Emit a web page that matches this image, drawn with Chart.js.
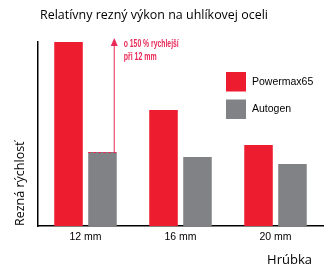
<!DOCTYPE html>
<html>
<head>
<meta charset="utf-8">
<script src="https://cdn.jsdelivr.net/npm/chart.js"></script>
<style>
  html, body { margin: 0; padding: 0; background: #fff; }
  canvas { display: block; }
</style>
</head>
<body>
<canvas id="chart" width="329" height="276"></canvas>
<script>
const categories = ["12 mm", "16 mm", "20 mm"];
const powermax = [100, 63, 44];
const autogen = [40.2, 37.5, 33.7];
const seriesNames = ["Powermax65", "Autogen"];
const seriesColors = ["#ed1c2e", "#808285"];

const chartTitle = "Relatívny rezný výkon na uhlíkovej oceli";
const yTitle = "Rezná rýchlosť";
const xTitle = "Hrúbka";
const noteLines = ["o 150 % rychlejší", "při 12 mm"];
const noteColor = "#e92a58";

// draws text squeezed/stretched to a given width
function fitText(ctx, text, x, y, width) {
  const w = ctx.measureText(text).width;
  const sx = width / w;
  ctx.save();
  ctx.translate(x, y);
  ctx.scale(sx, 1);
  ctx.fillText(text, 0, 0);
  ctx.restore();
}

const extras = {
  id: "extras",
  afterDatasetsDraw(chart) {
    const ctx = chart.ctx;
    const area = chart.chartArea;
    const yScale = chart.scales.y;

    // chart title
    ctx.save();
    ctx.fillStyle = "#000";
    ctx.font = "12.5px 'Open Sans'";
    ctx.textAlign = "left";
    ctx.textBaseline = "middle";
    fitText(ctx, chartTitle, area.left + 2, 15, 228);

    // x axis title
    ctx.font = "13px 'Open Sans'";
    ctx.textAlign = "right";
    ctx.fillText(xTitle, area.right - 11, 260);

    // legend
    ctx.font = "10.5px 'Liberation Sans', Arial";
    ctx.textAlign = "left";
    chart.data.datasets.forEach((ds, i) => {
      const lx = area.right - 97;
      const ly = area.top + 30 + i * 27.5;
      ctx.fillStyle = ds.backgroundColor;
      ctx.fillRect(lx, ly, 20, 19.5);
      ctx.fillStyle = "#000";
      ctx.fillText(ds.label, lx + 26, ly + 10);
    });

    // arrow annotation over the 12 mm Autogen bar
    const bar = chart.getDatasetMeta(1).data[0];
    const left = bar.x - bar.width / 2;
    const right = bar.x + bar.width / 2;
    ctx.strokeStyle = noteColor;
    ctx.lineWidth = 1;
    ctx.setLineDash([3, 2]);
    ctx.beginPath();
    ctx.moveTo(left, bar.y + 0.5);
    ctx.lineTo(right, bar.y + 0.5);
    ctx.stroke();
    ctx.setLineDash([]);

    const ax = right - 2.5;
    const top = yScale.getPixelForValue(yScale.max) - 4;
    ctx.beginPath();
    ctx.moveTo(ax, bar.y);
    ctx.lineTo(ax, top + 6);
    ctx.stroke();
    ctx.fillStyle = noteColor;
    ctx.beginPath();
    ctx.moveTo(ax, top);
    ctx.lineTo(ax - 3.5, top + 8);
    ctx.lineTo(ax + 3.5, top + 8);
    ctx.closePath();
    ctx.fill();

    ctx.font = "bold 11px 'Liberation Sans Narrow', 'Liberation Sans', Arial";
    ctx.textAlign = "left";
    fitText(ctx, noteLines[0], ax + 9.5, top + 5.5, 55);
    fitText(ctx, noteLines[1], ax + 9.5, top + 19, 33);
    ctx.restore();
  }
};

const config = {
  type: "bar",
  data: {
    labels: categories,
    datasets: [
      { label: seriesNames[0], data: powermax, backgroundColor: seriesColors[0] },
      { label: seriesNames[1], data: autogen, backgroundColor: seriesColors[1] }
    ]
  },
  options: {
    responsive: false,
    animation: false,
    categoryPercentage: 0.715,
    barPercentage: 0.84,
    layout: { padding: { top: 42, right: 6, left: 0, bottom: 0 } },
    plugins: {
      legend: { display: false },
      title: { display: false },
      tooltip: { enabled: false }
    },
    scales: {
      x: {
        grid: { display: false, drawTicks: false },
        border: { color: "#000", width: 1.5 },
        ticks: {
          padding: 5,
          color: "#000",
          font: { family: "'Liberation Sans', Arial", size: 10.5 }
        },
        afterFit(s) { s.height = 50; }
      },
      y: {
        min: 0,
        max: 100,
        grid: { display: false, drawTicks: false },
        border: { color: "#000", width: 1.5 },
        ticks: { display: false },
        title: {
          display: true,
          text: yTitle,
          align: "start",
          color: "#000",
          padding: { top: 13, bottom: 0 },
          font: { family: "'Open Sans'", size: 12.5 }
        },
        afterFit(s) { s.width = 38; }
      }
    }
  },
  plugins: [extras]
};

var ctx = document.getElementById("chart").getContext("2d");
var myChart = new Chart(ctx, config);
</script>
</body>
</html>
